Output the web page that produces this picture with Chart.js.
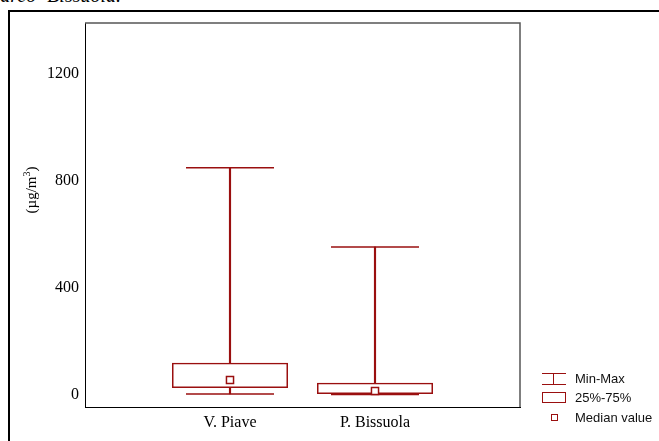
<!DOCTYPE html>
<html>
<head>
<meta charset="utf-8">
<script src="https://cdn.jsdelivr.net/npm/chart.js@4.4.0/dist/chart.umd.min.js"></script>
<style>
html, body { margin: 0; padding: 0; background: #fff; width: 659px; height: 441px; overflow: hidden; }
#frame { position: absolute; left: 8px; top: 10px; width: 700px; height: 500px; border: 2px solid #000; box-sizing: border-box; }
#caption { position: absolute; left: -12px; top: -15px; font: italic 20px 'Liberation Serif'; line-height: 1; white-space: nowrap; color: #000; word-spacing: 6px; }
#wrap { position: absolute; left: 0; top: 0; width: 659px; height: 441px; }
#ytitle { position: absolute; left: 1px; top: 182px; width: 60px; height: 16px; line-height: 16px; text-align: center; transform: rotate(-90deg); font: 15px 'Liberation Serif'; white-space: nowrap; color: #000; }
#ytitle sup { font-size: 10px; line-height: 0; }
.leg { position: absolute; font: 13px 'Liberation Sans'; color: #111; line-height: 1; }
.sym { position: absolute; border-color: #9a0f0f; border-style: solid; border-width: 0; box-sizing: border-box; }
</style>
</head>
<body>
<div id="caption">Parco Bissuola.</div>
<div id="frame"></div>
<div id="wrap"><canvas id="chart" width="659" height="441"></canvas></div>
<div id="ytitle">(µg/m<sup>3</sup>)</div>

<div class="sym" style="left:542px;top:373px;width:24px;height:12px;border-top-width:1.5px;border-bottom-width:1.5px;"></div>
<div class="sym" style="left:553px;top:373px;width:1.5px;height:12px;border-left-width:1.5px;"></div>
<div class="leg" style="left:575px;top:372px;">Min-Max</div>
<div class="sym" style="left:542px;top:392px;width:24px;height:11px;border-width:1.5px;"></div>
<div class="leg" style="left:575px;top:391px;">25%-75%</div>
<div class="sym" style="left:551px;top:414px;width:7px;height:7px;border-width:1.5px;"></div>
<div class="leg" style="left:575px;top:411px;">Median value</div>

<script>
// sites (empty slots at both ends keep the two boxes at 1/3 and 2/3 of the plot)
const sites = ['', 'V. Piave', 'P. Bissuola', ''];
const minVals = [null, 4, 2, null];
const q1Vals = [null, 26, 4, null];
const medianVals = [null, 56, 15, null];
const q3Vals = [null, 120, 46, null];
const maxVals = [null, 849, 553, null];
const yTicks = [0, 400, 800, 1200];

const red = '#9a0f0f';
const span = (a, b) => a.map((v, i) => v == null ? null : [v, b[i]]);

// plot frame: black left/bottom, grey top/right
const framePlugin = {
    id: 'frame',
    afterDraw(chart) {
        const { ctx, chartArea: a } = chart;
        ctx.save();
        ctx.strokeStyle = '#555';
        ctx.lineWidth = 1.5;
        ctx.beginPath();
        ctx.moveTo(a.left, a.top);
        ctx.lineTo(a.right, a.top);
        ctx.lineTo(a.right, a.bottom);
        ctx.stroke();
        ctx.restore();
    }
};

new Chart(document.getElementById('chart'), {
    type: 'bar',
    data: {
        labels: sites,
        datasets: [
            { data: span(q3Vals, maxVals), backgroundColor: red, barThickness: 1.5, grouped: false, order: 5 },
            { data: span(minVals, q1Vals), backgroundColor: red, barThickness: 1.5, grouped: false, order: 5 },
            {
                data: span(q1Vals, q3Vals), backgroundColor: 'rgba(255,255,255,0)', borderColor: red,
                borderWidth: 1.5, borderSkipped: false, grouped: false,
                barPercentage: 0.8, categoryPercentage: 1, order: 4
            },
            { type: 'line', data: maxVals, showLine: false, pointStyle: 'line', pointRadius: 44, pointBorderColor: red, pointBorderWidth: 1.5, order: 3 },
            { type: 'line', data: minVals, showLine: false, pointStyle: 'line', pointRadius: 44, pointBorderColor: red, pointBorderWidth: 1.5, order: 3 },
            {
                type: 'line', data: medianVals, showLine: false, pointStyle: 'rect', pointRadius: 5,
                pointBackgroundColor: '#fff', pointBorderColor: red, pointBorderWidth: 1.5, order: 1
            }
        ]
    },
    options: {
        responsive: false,
        animation: false,
        events: [],
        layout: { autoPadding: false, padding: { left: 0, top: 23, right: 139, bottom: 0 } },
        plugins: { legend: { display: false }, tooltip: { enabled: false } },
        scales: {
            x: {
                offset: false,
                grid: { display: false, drawTicks: false },
                border: { display: true, color: '#000', width: 1 },
                ticks: { color: '#000', font: { family: 'Liberation Serif', size: 16 }, padding: 6, autoSkip: false, maxRotation: 0 },
                afterFit: s => { s.height = 34; }
            },
            y: {
                min: -45,
                max: 1390,
                afterBuildTicks: s => { s.ticks = yTicks.map(v => ({ value: v })); },
                grid: { display: false, drawTicks: false },
                border: { display: true, color: '#000', width: 1 },
                ticks: { color: '#000', font: { family: 'Liberation Serif', size: 16 }, padding: 6, callback: v => String(v) },
                afterFit: s => { s.width = 85; }
            }
        }
    },
    plugins: [framePlugin]
});
</script>
</body>
</html>
